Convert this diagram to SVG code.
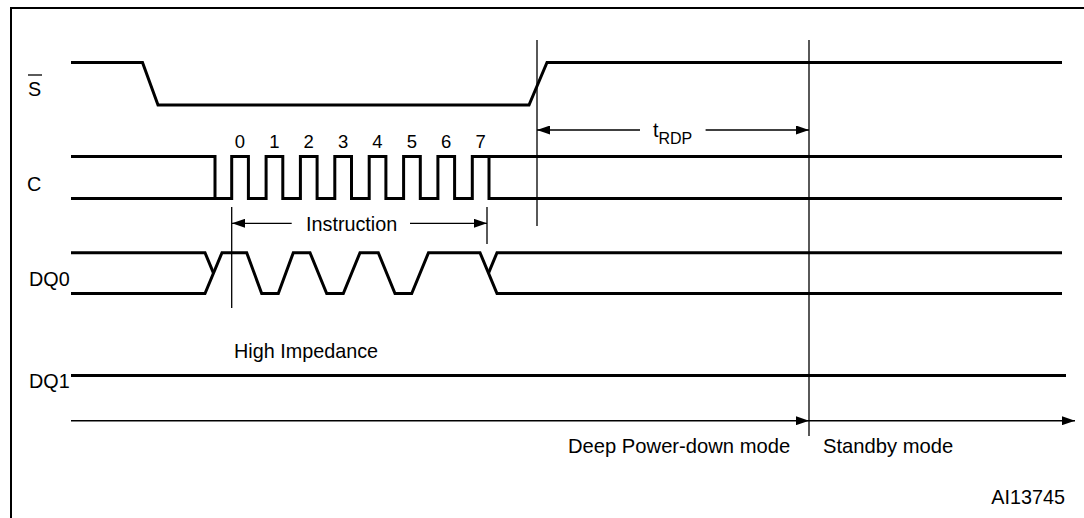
<svg xmlns="http://www.w3.org/2000/svg" width="1084" height="518" viewBox="0 0 1084 518">
<style>
text{font-family:"Liberation Sans",Arial,sans-serif;fill:#000;font-size:19.8px}
.sig{fill:none;stroke:#000;stroke-width:3;stroke-linejoin:miter}
.guide{fill:none;stroke:#000;stroke-width:1.3}
.arr{fill:none;stroke:#000;stroke-width:1.3;marker-end:url(#ah)}
.axis{fill:none;stroke:#000;stroke-width:1.6;marker-end:url(#ah)}
.dig{font-size:18.5px;text-anchor:middle}
.mode{font-size:20.2px}
</style>
<defs>
<marker id="ah" markerUnits="userSpaceOnUse" viewBox="0 0 13 9" refX="13" refY="4.5" markerWidth="13" markerHeight="9" orient="auto">
<path d="M0,0 L13,4.5 L0,9 z" fill="#000"/>
</marker>
</defs>
<rect width="1084" height="518" fill="#fff"/>
<path id="frame" d="M11,518 V8 H1084" fill="none" stroke="#000" stroke-width="2"/>

<g id="S">
<text x="28" y="96">S</text>
<line x1="28" y1="75" x2="42" y2="75" stroke="#000" stroke-width="1.3"/>
<path class="sig" d="M71,62.5 H142.5 L158,105 H529 L547,62.5 H1062"/>
</g>

<g id="C">
<text x="27" y="191">C</text>
<path class="sig" d="M71,156.5 H215 V198.5"/>
<path class="sig" d="M71,198.5 H231.7 V156.5 H248.4 V198.5 H266.1 V156.5 H282.8 V198.5 H300.4 V156.5 H317.1 V198.5 H334.8 V156.5 H351.5 V198.5 H369.2 V156.5 H385.9 V198.5 H403.6 V156.5 H420.3 V198.5 H437.9 V156.5 H454.6 V198.5 H472.3 V156.5 H1062"/>
<path class="sig" d="M489,156.5 V198.5 H1062"/>
<text class="dig" x="240" y="148">0</text>
<text class="dig" x="274.4" y="148">1</text>
<text class="dig" x="308.7" y="148">2</text>
<text class="dig" x="343.1" y="148">3</text>
<text class="dig" x="377.5" y="148">4</text>
<text class="dig" x="411.9" y="148">5</text>
<text class="dig" x="446.2" y="148">6</text>
<text class="dig" x="480.6" y="148">7</text>
</g>

<g id="DQ0">
<text x="29" y="286">DQ0</text>
<path class="sig" d="M71,252.7 H205 L213.5,273.1"/>
<path class="sig" d="M71,293.5 H205 L222,252.7 H246.7 L261.7,293.5 H278.3 L293.3,252.7 H310 L326.7,293.5 H343.3 L360,252.7 H378.3 L395,293.5 H411.7 L428.5,252.7 H480 L497,293.5 H1062"/>
<path class="sig" d="M488.5,273.1 L497,252.7 H1062"/>
<text x="234" y="358">High Impedance</text>
</g>

<g id="DQ1">
<text x="29" y="388">DQ1</text>
<path class="sig" d="M71,375.5 H1066"/>
</g>

<g id="modes">
<text class="mode" x="568" y="453">Deep Power-down mode</text>
<text class="mode" x="823" y="453">Standby mode</text>
<text x="1065" y="504" font-size="16.5" text-anchor="end">AI13745</text>
</g>

<g id="connectors">
<path class="guide" d="M537,40 V226 M809,40 V436 M231.7,207 V308 M487,207 V244"/>
<path class="arr" d="M640,130 H537"/>
<path class="arr" d="M705.6,130 H809"/>
<path class="arr" d="M291.7,223.3 H232"/>
<path class="arr" d="M410,223.3 H487"/>
<path class="axis" d="M71,420.7 H809"/>
<path class="axis" d="M809,420.7 H1075"/>
<text x="653" y="137">t<tspan font-size="16" dy="7">RDP</tspan></text>
<text x="306" y="231" font-size="19.5">Instruction</text>
</g>
</svg>
